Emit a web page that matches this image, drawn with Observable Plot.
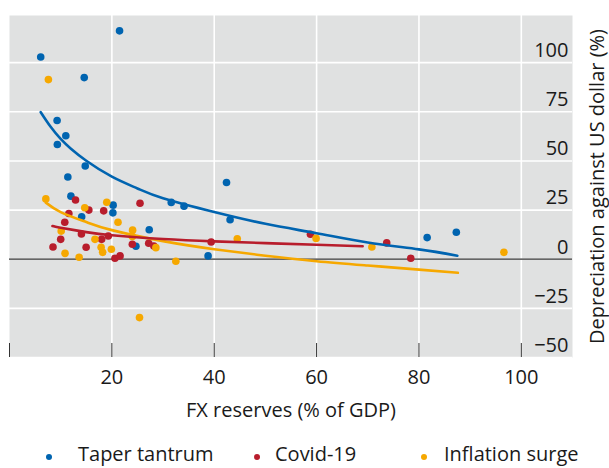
<!DOCTYPE html>
<html>
<head>
<meta charset="utf-8">
<script src="https://cdn.jsdelivr.net/npm/d3@7"></script>
<script src="https://cdn.jsdelivr.net/npm/@observablehq/plot@0.6"></script>
<style>
  html, body { margin: 0; padding: 0; background: white; overflow: hidden; }
  #chart svg { display: block; }
  #legend { position: relative; height: 32px; font-family: "Open Sans", sans-serif; font-size: 20px; color: #1a1a1a; }
  #legend .dot { position: absolute; width: 6px; height: 6px; border-radius: 50%; }
  #legend .lab { position: absolute; line-height: 22px; white-space: nowrap; }
</style>
</head>
<body>
<div id="chart"></div>
<div id="legend"></div>
<script>
// ---- Data ----
const series = ["Taper tantrum", "Covid-19", "Inflation surge"];
const colors = ["#0064b0", "#b81d2c", "#f6a800"];

const xTicks = [0, 20, 40, 60, 80, 100];
const yTicks = [-50, -25, 0, 25, 50, 75, 100];
const xLabel = "FX reserves (% of GDP)";
const yLabel = "Depreciation against US dollar (%)";

const taperX = [6.1, 21.5, 14.6, 9.3, 11.0, 9.35, 14.8, 11.4, 42.4, 12.0, 20.25, 20.2, 14.1, 27.3, 24.7, 31.6, 34.1, 43.1, 38.8, 81.6, 87.3];
const taperY = [102.9, 116.2, 92.4, 70.6, 62.8, 58.4, 47.4, 41.8, 39.0, 32.1, 27.5, 23.6, 21.6, 15.0, 6.6, 28.9, 27.0, 20.1, 1.7, 11.0, 13.7];

const covidX = [12.9, 15.5, 11.6, 18.4, 25.5, 10.8, 14.05, 10.0, 8.5, 14.97, 18.0, 19.3, 24.0, 27.2, 28.2, 20.6, 21.6, 39.4, 58.8, 73.7, 78.4];
const covidY = [30.1, 25.0, 23.3, 24.6, 28.5, 18.8, 12.8, 10.1, 6.2, 6.1, 10.1, 11.8, 7.6, 8.1, 6.7, 0.5, 1.7, 8.8, 12.7, 8.3, 0.5];

const inflX = [7.6, 7.1, 19.0, 14.7, 21.2, 10.1, 16.7, 17.9, 18.2, 19.9, 10.85, 13.6, 24.05, 24.0, 28.6, 32.5, 25.4, 44.5, 59.9, 70.8, 96.6];
const inflY = [91.4, 30.7, 29.0, 26.2, 18.8, 14.3, 10.1, 6.1, 3.5, 5.1, 3.0, 1.0, 14.8, 11.5, 5.9, -1.0, -29.7, 10.4, 10.6, 6.2, 3.5];

// Trend curves, points
const taperTrendX = [6.1, 8, 10, 12, 15, 20, 25, 30, 40, 50, 60, 70, 80, 87.5];
const taperTrendY = [74.8, 67.5, 61.2, 56.2, 50.1, 42, 36, 31, 24, 18, 13.2, 8.5, 5, 1.8];
const covidTrendX = [8.4, 10, 15, 20, 30, 40, 50, 60, 69];
const covidTrendY = [16.9, 16.0, 13.8, 12.2, 10.3, 9.1, 8.2, 7.4, 6.6];
const inflTrendX = [7.1, 10, 15, 20, 30, 40, 50, 60, 70, 80, 87.6];
const inflTrendY = [28.8, 24, 18.9, 14.8, 9.2, 5.1, 1.8, -1, -3.2, -5.3, -6.9];

// ---- Build tables ----
const zip = (xs, ys) => xs.map((x, i) => ({x, y: ys[i]}));
const pts = [zip(taperX, taperY), zip(covidX, covidY), zip(inflX, inflY)];
const trends = [zip(taperTrendX, taperTrendY), zip(covidTrendX, covidTrendY), zip(inflTrendX, inflTrendY)];

const fmt = d => (d < 0 ? "\u2212" + Math.abs(d) : String(d));
const FONT = "'Open Sans', sans-serif";

const chart = Plot.plot({
  width: 609,
  height: 436,
  marginLeft: 9,
  marginRight: 37,
  marginTop: 15,
  marginBottom: 79,
  x: {domain: [0, 110]},
  y: {domain: [-50, 124], axis: null},
  style: {fontFamily: FONT, fontSize: "20px", color: "#1a1a1a", background: "white"},
  marks: [
    Plot.frame({fill: "#e0e1e1", stroke: null}),
    Plot.gridX(xTicks.filter(d => d > 0), {stroke: "white", strokeOpacity: 1, strokeWidth: 1.6}),
    Plot.gridY(yTicks, {stroke: "white", strokeOpacity: 1, strokeWidth: 1.6}),
    Plot.ruleY([0], {stroke: "#333", strokeWidth: 1.3}),
    Plot.ruleX(xTicks, {stroke: "#333", strokeWidth: 1, insetTop: 328}),
    Plot.axisX(xTicks.filter(d => d > 0), {tickSize: 0, tickPadding: 12, fontSize: 20, label: null}),
    Plot.text(yTicks, {y: d => d, text: fmt, frameAnchor: "right", textAnchor: "end", lineAnchor: "middle", dx: -4, dy: -12, fontSize: 20}),
    Plot.text([xLabel], {text: d => d, frameAnchor: "bottom", textAnchor: "middle", lineAnchor: "middle", dy: 53, fontSize: 20}),
    Plot.text([yLabel], {text: d => d, frameAnchor: "right", rotate: -90, textAnchor: "middle", lineAnchor: "middle", dx: 25, fontSize: 20}),
    ...pts.map((p, i) => Plot.dot(p, {x: "x", y: "y", r: 3.8, fill: colors[i], stroke: null})),
    Plot.line(trends[0], {x: "x", y: "y", stroke: colors[0], strokeWidth: 2.6, curve: "natural"}),
    Plot.line(trends[2], {x: "x", y: "y", stroke: colors[2], strokeWidth: 2.6, curve: "natural"}),
    Plot.line(trends[1], {x: "x", y: "y", stroke: colors[1], strokeWidth: 2.6, curve: "natural"})
  ]
});
document.getElementById("chart").append(chart);

// ---- Legend ----
const legend = document.getElementById("legend");
const dotLeft = [46, 253.7, 421];
const labLeft = [78, 275, 444];
series.forEach((s, i) => {
  const d = document.createElement("span");
  d.className = "dot";
  d.style.left = dotLeft[i] + "px";
  d.style.top = "18px";
  d.style.background = colors[i];
  legend.append(d);
  const t = document.createElement("span");
  t.className = "lab";
  t.style.left = labLeft[i] + "px";
  t.style.top = "7px";
  t.textContent = s;
  legend.append(t);
});
</script>
</body>
</html>
